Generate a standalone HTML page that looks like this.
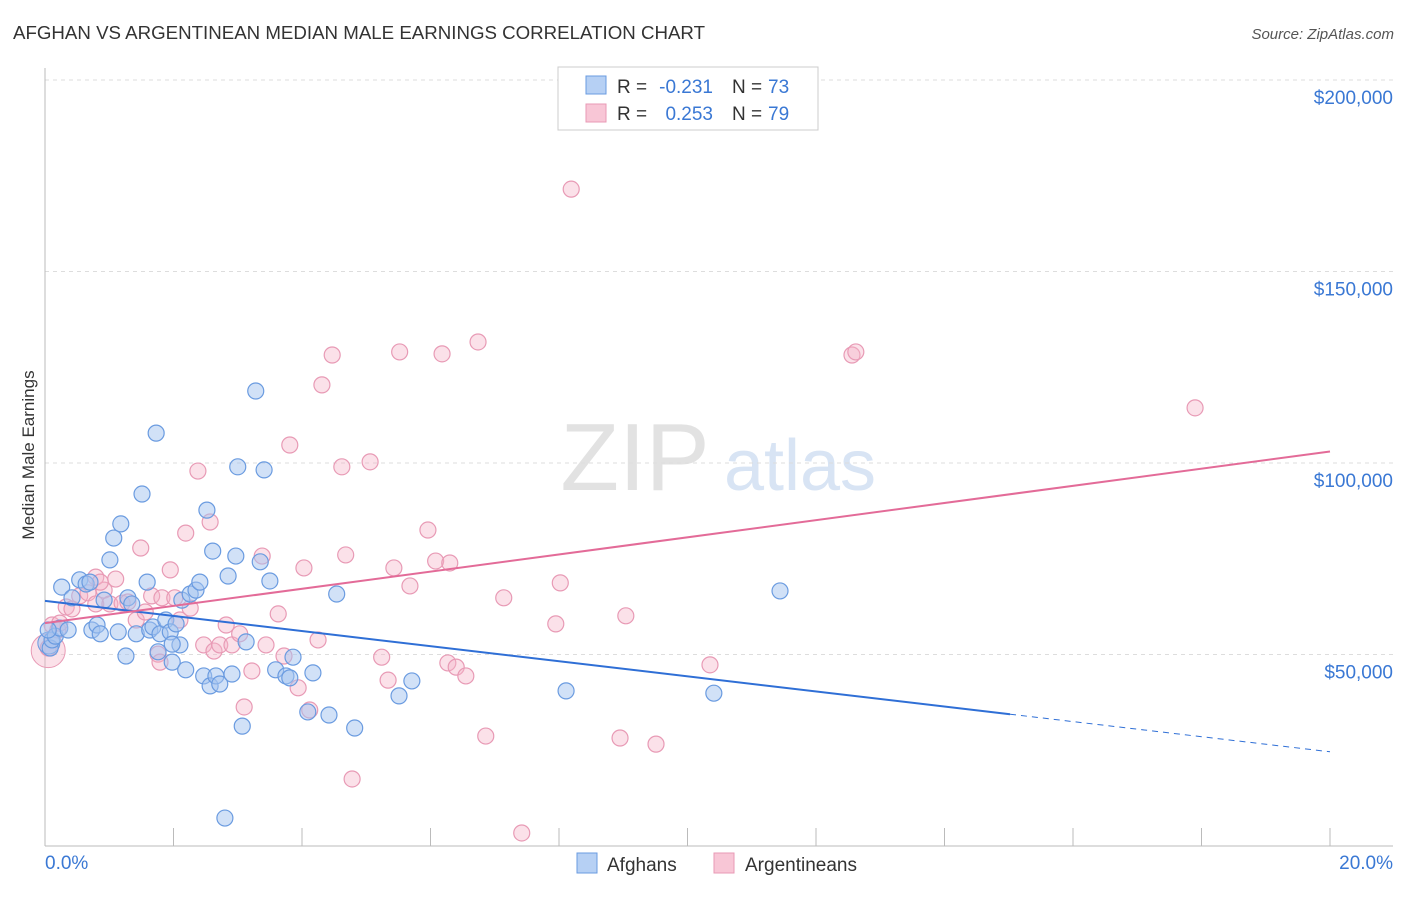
<!DOCTYPE html>
<html><head><meta charset="utf-8"><style>
body{margin:0;background:#fff;font-family:"Liberation Sans",sans-serif;}
svg text{font-family:"Liberation Sans",sans-serif;}
</style></head><body>
<svg id="chart" width="1406" height="892" xmlns="http://www.w3.org/2000/svg">
<text x="13" y="39" font-size="18.3" fill="#333" textLength="692" lengthAdjust="spacingAndGlyphs">AFGHAN VS ARGENTINEAN MEDIAN MALE EARNINGS CORRELATION CHART</text>
<text x="1394" y="39" font-size="15" fill="#555" text-anchor="end" font-style="italic">Source: ZipAtlas.com</text>
<text transform="translate(34,455) rotate(-90)" font-size="17" fill="#333" text-anchor="middle">Median Male Earnings</text>
<g><text x="635" y="490" font-size="96" fill="#e2e2e2" text-anchor="middle" font-family="Liberation Serif">ZIP</text><text x="800" y="490" font-size="72" fill="#d8e4f4" text-anchor="middle">atlas</text></g>
<g id="grid"></g><g id="axes"></g><g id="pts"></g><g id="lines"></g>
<g>
<rect x="558" y="67" width="260" height="63" fill="#fff" stroke="#ccc"/>
<rect x="586" y="76" width="20" height="18" fill="#b6d0f4" stroke="#6a9be0"/>
<rect x="586" y="104" width="20" height="18" fill="#f8c6d6" stroke="#e89ab5"/>
<text x="617" y="93" font-size="19" fill="#333">R =</text>
<text x="713" y="93" font-size="19" fill="#3a78d4" text-anchor="end">-0.231</text>
<text x="732" y="93" font-size="19" fill="#333">N =</text>
<text x="768" y="93" font-size="19" fill="#3a78d4">73</text>
<text x="617" y="120" font-size="19" fill="#333">R =</text>
<text x="713" y="120" font-size="19" fill="#3a78d4" text-anchor="end">0.253</text>
<text x="732" y="120" font-size="19" fill="#333">N =</text>
<text x="768" y="120" font-size="19" fill="#3a78d4">79</text>
</g>
<g>
<rect x="577" y="853" width="20" height="20" fill="#b6d0f4" stroke="#6a9be0"/>
<text x="607" y="871" font-size="19" fill="#333">Afghans</text>
<rect x="714" y="853" width="20" height="20" fill="#f8c6d6" stroke="#e89ab5"/>
<text x="745" y="871" font-size="19" fill="#333">Argentineans</text>
</g>
</svg>
<script>
const yTicks=[50000,100000,150000,200000];
const yTickLabels=["$50,000","$100,000","$150,000","$200,000"];
const xEnds=["0.0%","20.0%"];
const afgX=[0.08,0.11,0.16,0.23,0.26,0.36,0.42,0.54,0.64,0.70,0.73,0.81,0.86,0.92,1.01,1.07,1.14,1.18,1.26,1.29,1.35,1.42,1.51,1.59,1.63,1.68,1.73,1.76,1.79,1.88,1.95,1.98,2.04,2.10,2.13,2.19,2.26,2.35,2.41,2.47,2.52,2.57,2.61,2.66,2.72,2.85,2.91,2.97,3.00,3.07,3.13,3.28,3.35,3.41,3.50,3.59,3.75,3.81,3.86,4.09,4.17,4.42,4.54,4.82,5.51,5.71,2.80,8.11,10.41,11.44,1.98,0.05];
const afgY=[51.7,53.8,54.8,56.9,67.6,56.4,64.8,69.5,68.4,68.9,56.4,57.7,55.4,64.2,74.7,80.4,55.9,84.1,49.6,64.8,63.2,55.4,91.9,68.9,56.4,57.2,107.8,50.7,55.4,59.0,55.9,48.0,58.0,52.5,64.2,46.0,65.8,66.8,68.9,44.4,87.7,41.8,77.0,44.4,42.3,70.5,44.9,75.7,99.0,31.3,53.3,118.8,74.2,98.2,69.2,46.0,44.4,43.9,49.3,35.0,45.2,34.2,65.8,30.8,39.2,43.1,7.3,40.5,39.9,66.6,52.7,56.4];
const argX=[0.05,0.11,0.20,0.33,0.42,0.54,0.67,0.79,0.92,1.01,1.10,1.20,1.29,1.42,1.49,1.56,1.66,1.76,1.82,1.95,2.02,2.10,2.19,2.26,2.38,2.47,2.57,2.63,2.72,2.82,2.91,3.03,3.10,3.22,3.38,3.44,3.63,3.72,3.81,3.94,4.03,4.12,4.25,4.31,4.47,4.62,4.68,4.78,5.06,5.24,5.34,5.43,5.52,5.68,5.96,6.08,6.18,6.27,6.30,6.40,6.55,6.74,6.86,7.14,7.42,7.95,8.02,8.19,8.95,9.04,9.51,10.35,12.56,12.62,17.90,0.79,1.79,0.86,0.23];
const argY=[51.7,57.7,56.4,62.4,61.9,65.3,66.1,63.2,66.8,63.2,69.7,63.4,63.7,59.0,77.8,61.1,65.3,50.1,64.8,72.1,64.8,59.0,81.7,62.1,97.9,52.5,84.6,50.9,52.5,57.7,52.5,55.4,36.3,45.7,75.7,52.5,60.6,49.6,104.7,41.3,72.6,35.5,53.8,120.4,128.2,99.0,76.0,17.5,100.3,49.3,43.3,72.6,129.0,67.9,82.5,74.4,128.5,47.8,73.9,46.7,44.4,131.6,28.7,64.8,3.4,58.0,68.7,171.5,28.2,60.1,26.6,47.3,128.2,129.0,114.4,70.2,48.0,68.9,58.2];
const afgTrend=[64.0,24.6];const afgSolidEnd=15.02;
const argTrend=[58.2,103.0];

const NS="http://www.w3.org/2000/svg";
const X0=45,X1=1330,Y0=846,Ymax=80;
const sx=v=>X0+(v/20)*(X1-X0);
const sy=v=>Y0-(v/200000)*(Y0-Ymax);
function mk(tag,attrs,parent){const e=document.createElementNS(NS,tag);for(const k in attrs)e.setAttribute(k,attrs[k]);document.getElementById(parent).appendChild(e);return e;}
yTicks.forEach((t,i)=>{
  const g=mk('line',{x1:45,x2:1393,y1:sy(t),y2:sy(t),stroke:'#ddd','stroke-dasharray':'4,4'},'grid');
  
  
  const l=mk('text',{x:1393,y:sy(t)+24,'font-size':19,fill:'#3a78d4','text-anchor':'end'},'grid');
  l.textContent=yTickLabels[i];
  
  
});
mk('line',{x1:45,x2:45,y1:68,y2:846,stroke:'#bbb'},'axes');
mk('line',{x1:45,x2:1393,y1:846,y2:846,stroke:'#bbb'},'axes');
for(let i=0;i<=10;i++){const t=mk('line',{x1:sx(i*2),x2:sx(i*2),y1:828,y2:846,stroke:'#bbb'},'axes');
  
  }
const xl0=mk('text',{x:45,y:869,'font-size':19,fill:'#3a78d4'},'axes');xl0.textContent=xEnds[0];


const xl1=mk('text',{x:1393,y:869,'font-size':19,fill:'#3a78d4','text-anchor':'end'},'axes');xl1.textContent=xEnds[1];


const bp=mk('circle',{cx:sx(0.05),cy:sy(51000),r:17,fill:'rgba(246,180,200,0.4)',stroke:'#e89ab5'},'pts');


argX.forEach((x,i)=>{const c=mk('circle',{cx:sx(x),cy:sy(argY[i]*1000),r:8,fill:'rgba(246,180,200,0.4)',stroke:'#e89ab5','stroke-width':1.2},'pts');
  
  });
const bb=mk('circle',{cx:sx(0.06),cy:sy(53000),r:11,fill:'rgba(164,196,240,0.5)',stroke:'#6a9be0'},'pts');


afgX.forEach((x,i)=>{const c=mk('circle',{cx:sx(x),cy:sy(afgY[i]*1000),r:8,fill:'rgba(164,196,240,0.5)',stroke:'#6a9be0','stroke-width':1.2},'pts');
  
  });
const ay=x=>afgTrend[0]+(afgTrend[1]-afgTrend[0])*x/20;
const l1=mk('line',{x1:sx(0),y1:sy(ay(0)*1000),x2:sx(afgSolidEnd),y2:sy(ay(afgSolidEnd)*1000),stroke:'#2f6fd6','stroke-width':2},'lines');


const l2=mk('line',{x1:sx(afgSolidEnd),y1:sy(ay(afgSolidEnd)*1000),x2:sx(20),y2:sy(ay(20)*1000),stroke:'#2f6fd6','stroke-width':1,'stroke-dasharray':'6,5'},'lines');


const l3=mk('line',{x1:sx(0),y1:sy(argTrend[0]*1000),x2:sx(20),y2:sy(argTrend[1]*1000),stroke:'#e36b98','stroke-width':2},'lines');


</script>
</body></html>
